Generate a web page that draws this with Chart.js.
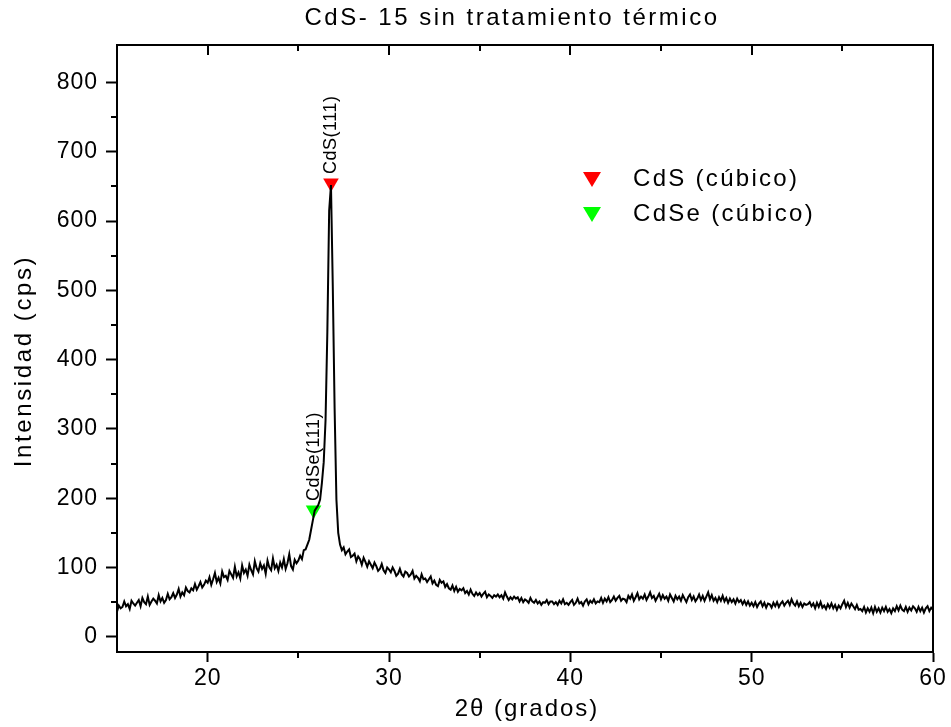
<!DOCTYPE html>
<html>
<head>
<meta charset="utf-8">
<script src="https://cdn.jsdelivr.net/npm/chart.js@4/dist/chart.umd.min.js"></script>
<style>
  html, body { margin: 0; padding: 0; background: #fff; }
  #wrap { width: 951px; height: 727px; }
</style>
</head>
<body>
<div id="wrap"><canvas id="xrd" width="951" height="727"></canvas></div>
<script>
// scan grid (2theta, degrees)
const scanStart = 15;
const scanStep = 0.1;

// counts per 0.1 deg, one row per degree
const counts = [
  36, 45, 41, 43, 51, 44, 47, 40, 52, 48,        // 15
  45, 49, 53, 44, 56, 50, 47, 58, 46, 51,        // 16
  55, 52, 48, 60, 51, 56, 49, 53, 62, 54,        // 17
  57, 63, 56, 61, 69, 58, 64, 60, 71, 66,        // 18
  64, 70, 67, 76, 68, 73, 79, 71, 75, 81,        // 19
  78, 86, 75, 83, 92, 79, 85, 77, 94, 86,        // 20
  88, 82, 95, 90, 85, 101, 87, 93, 84, 103,      // 21
  92, 97, 88, 104, 96, 90, 109, 99, 94, 106,     // 22
  98, 103, 91, 110, 100, 96, 113, 99, 104, 95,   // 23
  107, 100, 112, 98, 106, 119, 102, 97, 111, 106, // 24
  110, 117, 112, 125, 126, 133, 140, 154, 168, 182, // 25
  186, 190, 198, 222, 252, 312, 440, 615, 652, 505, // 26
  330, 198, 150, 133, 125, 129, 119, 123, 126, 115, // 27
  117, 120, 109, 116, 112, 104, 114, 108, 101, 109, // 28
  104, 99, 107, 102, 95, 98, 105, 96, 92, 100,   // 29
  97, 93, 100, 95, 88, 91, 98, 90, 87, 94,       // 30
  92, 87, 90, 95, 84, 88, 85, 80, 90, 83,        // 31
  84, 79, 83, 87, 77, 81, 75, 73, 82, 78,        // 32
  80, 72, 76, 70, 68, 74, 66, 72, 65, 69,        // 33
  67, 70, 63, 66, 61, 68, 62, 59, 64, 60,        // 34
  63, 58, 62, 65, 57, 61, 59, 56, 60, 58,        // 35
  61, 57, 60, 55, 64, 58, 53, 57, 54, 58,        // 36
  55, 57, 51, 56, 50, 54, 52, 49, 56, 51,        // 37
  49, 53, 48, 51, 46, 50, 49, 53, 47, 51,        // 38
  51, 47, 50, 46, 52, 48, 54, 47, 49, 46,        // 39
  50, 53, 46, 49, 55, 48, 50, 45, 51, 54,        // 40
  47, 52, 49, 54, 48, 51, 50, 56, 49, 55,        // 41
  51, 57, 50, 53, 58, 52, 56, 59, 52, 55,        // 42
  54, 50, 59, 55, 61, 52, 57, 63, 54, 58,        // 43
  55, 61, 53, 58, 64, 56, 59, 52, 57, 62,        // 44
  54, 60, 55, 58, 52, 61, 56, 51, 59, 54,        // 45
  58, 52, 60, 55, 50, 57, 61, 53, 58, 51,        // 46
  55, 61, 53, 59, 52, 58, 64, 54, 60, 52,        // 47
  56, 50, 57, 52, 59, 51, 56, 49, 55, 50,        // 48
  54, 48, 55, 50, 53, 47, 52, 46, 51, 45,        // 49
  49, 44, 50, 43, 48, 51, 44, 49, 42, 48,        // 50
  47, 42, 49, 44, 50, 43, 48, 51, 45, 49,        // 51
  52, 46, 54, 48, 45, 51, 44, 49, 43, 48,        // 52
  46, 47, 50, 44, 48, 41, 49, 43, 50, 42,        // 53
  45, 40, 47, 42, 48, 41, 46, 39, 45, 41,        // 54
  47, 52, 43, 49, 42, 48, 44, 40, 46, 39,        // 55
  40, 37, 43, 35, 41, 36, 42, 34, 43, 36,        // 56
  41, 35, 42, 37, 43, 36, 40, 34, 41, 37,        // 57
  44, 38, 45, 39, 37, 43, 36, 42, 38, 44,        // 58
  41, 36, 43, 37, 42, 35, 41, 44, 37, 42,        // 59
  39                                             // 60
];

// identified peaks
const cdsPeak = [{ x: 26.8, y: 655 }];
const cdsePeak = [{ x: 25.84, y: 183 }];
const peakLabels = ['CdS(111)', 'CdSe(111)'];
const legendLabels = ['CdS (cúbico)', 'CdSe (cúbico)'];

// axis ticks
const xTicks = [20, 30, 40, 50, 60];
const xMinor = [25, 35, 45, 55];
const yTicks = [0, 100, 200, 300, 400, 500, 600, 700, 800];
const yMinor = [50, 150, 250, 350, 450, 550, 650, 750];

const FONT = "'Liberation Sans', Arial, sans-serif";

const points = counts.map((c, i) => ({ x: +(scanStart + i * scanStep).toFixed(2), y: c }));

const deco = {
    id: 'deco',
    beforeDraw(chart) {
        chart.ctx.letterSpacing = '1px';
    },
    afterDraw(chart) {
        const ctx = chart.ctx;
        const a = chart.chartArea;
        const xs = chart.scales.x, ys = chart.scales.y;
        ctx.save();
        ctx.strokeStyle = '#000';
        ctx.lineWidth = 2;

        // top and right frame
        ctx.beginPath();
        ctx.moveTo(a.left, a.top);
        ctx.lineTo(a.right, a.top);
        ctx.lineTo(a.right, a.bottom);
        ctx.stroke();

        // minor ticks, outward
        ctx.beginPath();
        yMinor.forEach(v => {
            const p = Math.round(ys.getPixelForValue(v));
            ctx.moveTo(a.left - 6, p);
            ctx.lineTo(a.left, p);
        });
        xMinor.forEach(v => {
            const p = Math.round(xs.getPixelForValue(v));
            ctx.moveTo(p, a.bottom);
            ctx.lineTo(p, a.bottom + 6);
            // top axis, inward
            ctx.moveTo(p, a.top);
            ctx.lineTo(p, a.top + 6);
        });
        xTicks.forEach(v => {
            const p = Math.round(xs.getPixelForValue(v));
            ctx.moveTo(p, a.top);
            ctx.lineTo(p, a.top + 10);
        });
        ctx.stroke();

        // peak labels, rotated
        ctx.fillStyle = '#000';
        ctx.font = '18px ' + FONT;
        ctx.letterSpacing = '0.5px';
        ctx.textAlign = 'left';
        ctx.textBaseline = 'middle';
        [1, 2].forEach((di, k) => {
            const el = chart.getDatasetMeta(di).data[0];
            ctx.save();
            ctx.translate(el.x, el.y - 9);
            ctx.rotate(-Math.PI / 2);
            ctx.fillText(peakLabels[k], 0, 0);
            ctx.restore();
        });

        // legend
        const legColors = ['#ff0000', '#00ff00'];
        const legY = [179, 214];
        ctx.font = '24px ' + FONT;
        ctx.letterSpacing = '2.3px';
        legendLabels.forEach((t, i) => {
            const cx = 592, cy = legY[i];
            ctx.fillStyle = legColors[i];
            ctx.beginPath();
            ctx.moveTo(cx - 9, cy - 7);
            ctx.lineTo(cx + 9, cy - 7);
            ctx.lineTo(cx, cy + 8);
            ctx.closePath();
            ctx.fill();
            ctx.fillStyle = '#000';
            ctx.textAlign = 'left';
            ctx.fillText(t, 633, cy);
        });

        // titles
        ctx.textAlign = 'center';
        ctx.font = '24px ' + FONT;
        ctx.letterSpacing = '2.5px';
        ctx.fillText('CdS- 15 sin tratamiento térmico', 512, 18);
        ctx.letterSpacing = '2px';
        ctx.fillText('2θ (grados)', 527, 709);
        ctx.save();
        ctx.translate(24, 361);
        ctx.rotate(-Math.PI / 2);
        ctx.letterSpacing = '2.6px';
        ctx.fillText('Intensidad (cps)', 0, 0);
        ctx.restore();

        ctx.restore();
    }
};

new Chart(document.getElementById('xrd').getContext('2d'), {
    type: 'line',
    data: {
        datasets: [
            {
                data: points,
                borderColor: '#000',
                borderWidth: 2,
                pointRadius: 0,
                tension: 0,
                fill: false
            },
            {
                type: 'scatter',
                data: cdsPeak,
                pointStyle: 'triangle',
                rotation: 180,
                pointRadius: 9,
                backgroundColor: '#ff0000',
                borderWidth: 0
            },
            {
                type: 'scatter',
                data: cdsePeak,
                pointStyle: 'triangle',
                rotation: 180,
                pointRadius: 9,
                backgroundColor: '#00ff00',
                borderWidth: 0
            }
        ]
    },
    options: {
        responsive: false,
        animation: false,
        layout: { padding: { left: 0, top: 45, right: 18, bottom: 0 } },
        plugins: {
            legend: { display: false },
            title: { display: false },
            tooltip: { enabled: false }
        },
        scales: {
            x: {
                type: 'linear',
                min: 15,
                max: 60,
                afterBuildTicks: s => { s.ticks = xTicks.map(v => ({ value: v })); },
                afterFit: s => { s.height = 75; },
                border: { display: true, color: '#000', width: 2 },
                grid: { drawOnChartArea: false, drawTicks: true, tickLength: 10, tickWidth: 2, color: '#000' },
                ticks: { color: '#000', font: { family: FONT, size: 23 }, padding: 3, maxRotation: 0 }
            },
            y: {
                type: 'linear',
                min: -22,
                max: 854,
                afterBuildTicks: s => { s.ticks = yTicks.map(v => ({ value: v })); },
                afterFit: s => { s.width = 117; },
                border: { display: true, color: '#000', width: 2 },
                grid: { drawOnChartArea: false, drawTicks: true, tickLength: 11, tickWidth: 2, color: '#000' },
                ticks: { color: '#000', font: { family: FONT, size: 23 }, padding: 8 }
            }
        }
    },
    plugins: [deco]
});
</script>
</body>
</html>
